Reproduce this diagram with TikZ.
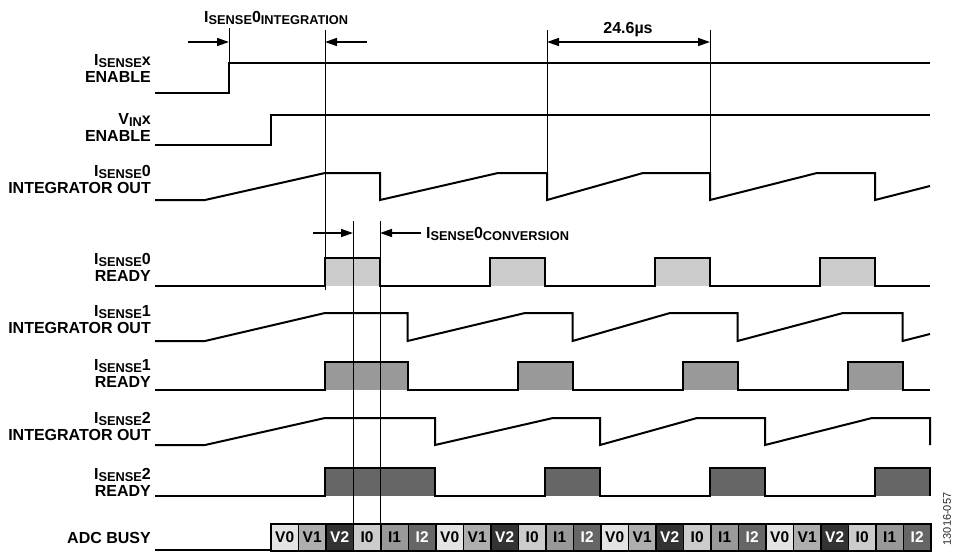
\documentclass[tikz,border=0pt]{standalone}
\usepackage{fontspec}
\setmainfont{Liberation Sans}
\usetikzlibrary{arrows.meta}
\newcommand{\subtxt}[1]{\raisebox{-2.5pt}[\height][0pt]{\fontsize{12.8}{13}\selectfont #1}}
\newcommand{\isense}{I\subtxt{SENSE}}
\definecolor{cVa}{HTML}{E4E4E4}
\definecolor{cVb}{HTML}{AEAEAE}
\definecolor{cVc}{HTML}{333333}
\definecolor{cIa}{HTML}{CCCCCC}
\definecolor{cIb}{HTML}{999999}
\definecolor{cIc}{HTML}{666666}
\begin{document}
\begin{tikzpicture}[x=1pt,y=-1pt,
  sig/.style={line width=2pt, line join=miter},
  guide/.style={line width=0.9pt},
  lbl/.style={anchor=base east, inner sep=0pt, font=\fontsize{16}{17}\selectfont\bfseries},
  toplbl/.style={inner sep=0pt, font=\fontsize{16}{17}\selectfont\bfseries},
  arr/.style={line width=1.5pt, -{Triangle[length=12pt,width=8pt]}},
  dimarr/.style={line width=1.5pt, {Triangle[length=12pt,width=8pt]}-{Triangle[length=12pt,width=8pt]}},
  cell/.style={draw, line width=1.8pt, minimum width=27.5pt, minimum height=27pt, inner sep=0pt, anchor=north west, font=\fontsize{15.5}{16}\selectfont\bfseries},
]
\useasboundingbox (0,0) rectangle (956,552);

% ---- labels ----
\node[lbl] (l1a) at (151,65) {\isense x};
\node[lbl] (l1b) at (151,82) {ENABLE};
\node[lbl] (l2a) at (151,124) {V\subtxt{IN}x};
\node[lbl] (l2b) at (151,141) {ENABLE};
\node[lbl] (l3a) at (151,176) {\isense 0};
\node[lbl] (l3b) at (151,193) {INTEGRATOR OUT};
\node[lbl] (l4a) at (151,264) {\isense 0};
\node[lbl] (l4b) at (151,281) {READY};
\node[lbl] (l5a) at (151,316) {\isense 1};
\node[lbl] (l5b) at (151,333) {INTEGRATOR OUT};
\node[lbl] (l6a) at (151,370) {\isense 1};
\node[lbl] (l6b) at (151,387) {READY};
\node[lbl] (l7a) at (151,423) {\isense 2};
\node[lbl] (l7b) at (151,440) {INTEGRATOR OUT};
\node[lbl] (l8a) at (151,479) {\isense 2};
\node[lbl] (l8b) at (151,496) {READY};
\node[lbl] (l9) at (151,543) {ADC BUSY};

% ---- ready fills ----
\foreach \a/\b in {325/380,490/545,655/710,820/875}
  \fill[cIa] (\a,286) rectangle (\b,258);
\foreach \a/\b in {325/407.5,517.5/572.5,682.5/737.5,847.5/902.5}
  \fill[cIb] (\a,390) rectangle (\b,362);
\foreach \a/\b in {325/435,545/600,710/765,875/930}
  \fill[cIc] (\a,496) rectangle (\b,468);

% ---- guide lines ----
\draw[guide] (229,28) -- (229,63);
\draw[guide] (325,30) -- (325,290);
\draw[guide] (547,30) -- (547,173);
\draw[guide] (710,30) -- (710,173);
\draw[guide] (353,221) -- (353,523);
\draw[guide] (380,221) -- (380,523);

% ---- signals ----
\draw[sig] (155,93) -- (229,93) -- (229,63) -- (930,63);
\draw[sig] (155,145) -- (271,145) -- (271,115) -- (930,115);
\draw[sig] (155,200) -- (205,200) -- (325,173) -- (380,173) -- (380,200) -- (498,173) -- (547,173) -- (547,200) -- (643,173) -- (710,173) -- (710,200) -- (817,173) -- (875,173) -- (875,200) -- (930,186);
\draw[sig] (155,286) -- (325,286) -- (325,258) -- (380,258) -- (380,286) -- (490,286) -- (490,258) -- (545,258) -- (545,286) -- (655,286) -- (655,258) -- (710,258) -- (710,286) -- (820,286) -- (820,258) -- (875,258) -- (875,286) -- (930,286);
\draw[sig] (155,341) -- (205,341) -- (325,313) -- (407.5,313) -- (407.5,341) -- (525,313) -- (572.5,313) -- (572.5,341) -- (670,313) -- (737.5,313) -- (737.5,341) -- (843,313) -- (902.5,313) -- (902.5,341) -- (930,334);
\draw[sig] (155,390) -- (325,390) -- (325,362) -- (407.5,362) -- (407.5,390) -- (517.5,390) -- (517.5,362) -- (572.5,362) -- (572.5,390) -- (682.5,390) -- (682.5,362) -- (737.5,362) -- (737.5,390) -- (847.5,390) -- (847.5,362) -- (902.5,362) -- (902.5,390) -- (930,390);
\draw[sig] (155,445) -- (205,445) -- (325,418) -- (435,418) -- (435,445) -- (553,418) -- (600,418) -- (600,445) -- (697,418) -- (765,418) -- (765,445) -- (872,418) -- (930,418) -- (930,445);
\draw[sig] (155,496) -- (325,496) -- (325,468) -- (435,468) -- (435,496) -- (545,496) -- (545,468) -- (600,468) -- (600,496) -- (710,496) -- (710,468) -- (765,468) -- (765,496) -- (875,496) -- (875,468) -- (930,468) -- (930,496);
\draw[sig] (155,550) -- (270,550);

% ---- ADC busy cells ----
\foreach \c in {0,1,2,3}{
  \foreach \nm/\fc/\tc [count=\k from 0] in {V0/cVa/black,V1/cVb/black,V2/cVc/white,I0/cIa/black,I1/cIb/black,I2/cIc/white}{
    \node[cell, fill=\fc, text=\tc] (adc-\c-\k) at ({270+(\c*6+\k)*27.5},523) {\nm};
  }
}

% ---- annotations ----
\node[toplbl, anchor=base west] (tint) at (204,22) {\isense 0\subtxt{INTEGRATION}};
\coordinate (ia0) at (188,42); \coordinate (ia1) at (229,42);
\coordinate (ib0) at (367,42); \coordinate (ib1) at (325,42);
\draw[arr] (ia0) -- (ia1);
\draw[arr] (ib0) -- (ib1);

\node[toplbl, anchor=base] (tper) at (628,33) {24.6µs};
\coordinate (pa) at (547,42); \coordinate (pb) at (710,42);
\draw[dimarr] (pa) -- (pb);

\node[toplbl, anchor=base west] (tconv) at (426,238) {\isense 0\subtxt{CONVERSION}};
\coordinate (ca0) at (313,233); \coordinate (ca1) at (353,233);
\coordinate (cb0) at (421,233); \coordinate (cb1) at (380,233);
\draw[arr] (ca0) -- (ca1);
\draw[arr] (cb0) -- (cb1);

\node[rotate=90, inner sep=0pt, font=\fontsize{11}{12}\selectfont, text=black!85] (figid) at (947,519) {13016-057};
\end{tikzpicture}
\end{document}
